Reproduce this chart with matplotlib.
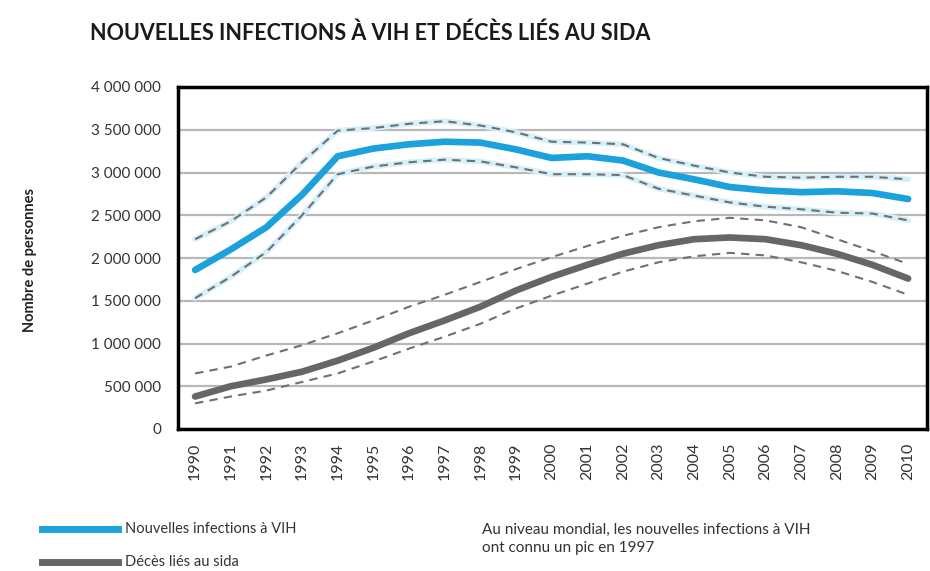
import numpy as np
import matplotlib
matplotlib.use('Agg')
from matplotlib import pyplot as plt

years = list(range(1990, 2011))

infections = [1.86, 2.10, 2.36, 2.74, 3.19, 3.28, 3.33, 3.36, 3.35, 3.27, 3.17,
              3.19, 3.14, 3.00, 2.92, 2.83, 2.79, 2.77, 2.78, 2.76, 2.69]
infections_high = [2.22, 2.43, 2.71, 3.12, 3.49, 3.52, 3.57, 3.60, 3.55, 3.47, 3.36,
                   3.35, 3.33, 3.17, 3.08, 3.00, 2.95, 2.94, 2.95, 2.95, 2.92]
infections_low = [1.53, 1.78, 2.07, 2.50, 2.98, 3.07, 3.12, 3.15, 3.13, 3.06, 2.98,
                  2.98, 2.97, 2.81, 2.73, 2.65, 2.60, 2.57, 2.53, 2.52, 2.44]

deaths = [0.38, 0.50, 0.58, 0.67, 0.80, 0.95, 1.12, 1.27, 1.43, 1.62, 1.78,
          1.92, 2.05, 2.15, 2.22, 2.24, 2.22, 2.15, 2.05, 1.92, 1.76]
deaths_high = [0.65, 0.73, 0.86, 0.98, 1.12, 1.27, 1.43, 1.57, 1.72, 1.87, 2.01,
               2.14, 2.26, 2.36, 2.43, 2.47, 2.44, 2.36, 2.22, 2.08, 1.93]
deaths_low = [0.30, 0.38, 0.45, 0.55, 0.65, 0.79, 0.94, 1.08, 1.23, 1.41, 1.56,
              1.70, 1.84, 1.95, 2.02, 2.06, 2.03, 1.95, 1.85, 1.72, 1.57]

yticks = [0, 500000, 1000000, 1500000, 2000000, 2500000, 3000000, 3500000, 4000000]
ytick_labels = ['0', '500 000', '1 000 000', '1 500 000', '2 000 000',
                '2 500 000', '3 000 000', '3 500 000', '4 000 000']

blue = '#1ba1dc'
grey = '#666666'
dash_col = '#707070'

plt.rcParams['font.family'] = ['Lato', 'DejaVu Sans']

fig = plt.figure(figsize=(9.3, 5.71), dpi=100)
ax = fig.add_axes([178 / 930, 1 - 429 / 571, (927 - 178) / 930, (429 - 87) / 571])

m = 1e6
ax.grid(axis='y', color='#b8b8b8', lw=1.6, zorder=0)
ax.set_axisbelow(True)

# halo under the blue bounds
for s in [infections_high, infections_low]:
    ax.plot(years, np.array(s) * m, color='#d4f0fb', lw=4, zorder=2,
            solid_capstyle='round')
for s in [infections_high, infections_low, deaths_high, deaths_low]:
    ax.plot(years, np.array(s) * m, color=dash_col, lw=1.5, dashes=(4, 3), zorder=3)

ax.plot(years, np.array(infections) * m, color=blue, lw=4.8, zorder=4,
        solid_capstyle='round', solid_joinstyle='round')
ax.plot(years, np.array(deaths) * m, color=grey, lw=4.8, zorder=4,
        solid_capstyle='round', solid_joinstyle='round')

ax.set_xlim(1989.52, 2010.53)
ax.set_ylim(0, 4000000)
ax.set_yticks(yticks)
ax.set_yticklabels(ytick_labels, fontsize=11, color='#333333')
ax.set_xticks(years)
ax.set_xticklabels([str(y) for y in years], rotation=90, fontsize=11.5, color='#333333')
ax.tick_params(length=0, pad=10)
ax.tick_params(axis='y', pad=12)
for sp in ax.spines.values():
    sp.set_linewidth(2.5)
    sp.set_color('black')

fig.text(30 / 930, 1 - 260 / 571, 'Nombre de personnes', rotation=90, fontsize=10.5,
         fontweight='bold', ha='center', va='center', color='#222222')
fig.text(90 / 930, 1 - 33 / 571, 'NOUVELLES INFECTIONS À VIH ET DÉCÈS LIÉS AU SIDA',
         fontsize=15.5, fontweight='bold', ha='left', va='center', color='#1a1a1a')

# legend
fig.lines.append(plt.Line2D([42 / 930, 118 / 930], [1 - 529 / 571] * 2, color=blue,
                            lw=5, transform=fig.transFigure))
fig.lines.append(plt.Line2D([42 / 930, 118 / 930], [1 - 562 / 571] * 2, color=grey,
                            lw=5, transform=fig.transFigure))
fig.text(125 / 930, 1 - 529 / 571, 'Nouvelles infections à VIH', fontsize=10.5,
         va='center', ha='left', color='#333333')
fig.text(125 / 930, 1 - 562 / 571, 'Décès liés au sida', fontsize=10.5,
         va='center', ha='left', color='#333333')
fig.text(482 / 930, 1 - 539 / 571,
         'Au niveau mondial, les nouvelles infections à VIH\nont connu un pic en 1997',
         fontsize=11, va='center', ha='left', color='#333333', linespacing=1.3)

fig.savefig('out.png', dpi=100, facecolor='white')
